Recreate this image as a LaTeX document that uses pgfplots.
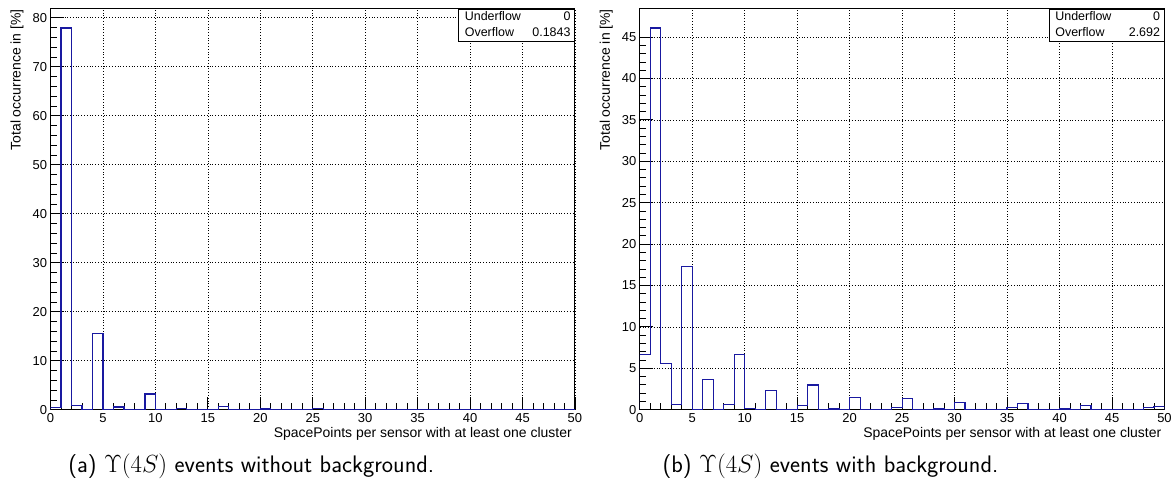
\documentclass[border=0pt]{standalone}
\usepackage{pgfplots}
\pgfplotsset{compat=1.18}
\usepackage{pgfplotstable}
\usepackage{fontspec}
\newfontfamily\rootfont{Liberation Sans}
\definecolor{histblue}{RGB}{25,25,160}

\pgfplotstableread{
x y
0 0
0 0.4
1 77.9
2 0.9
3 0
4 15.5
5 0
6 0.55
7 0
8 0
9 3.2
10 0
11 0
12 0.3
13 0
14 0
15 0
16 0.7
17 0
18 0
19 0
20 0.15
21 0
22 0
23 0
24 0
25 0.2
26 0
27 0
28 0
29 0
30 0.05
31 0
32 0
33 0
34 0
35 0
36 0.1
37 0
38 0
39 0
40 0
41 0
42 0.05
43 0
44 0
45 0
46 0
47 0
48 0
49 0.03
50 0
}\dataA

\pgfplotstableread{
x y
0 0
0 6.7
1 46.1
2 5.6
3 0.6
4 17.3
5 0
6 3.65
7 0
8 0.6
9 6.7
10 0.12
11 0
12 2.33
13 0
14 0
15 0.5
16 3.0
17 0
18 0.08
19 0
20 1.45
21 0.05
22 0
23 0
24 0.3
25 1.4
26 0
27 0
28 0.1
29 0
30 0.9
31 0.05
32 0
33 0
34 0
35 0.25
36 0.72
37 0
38 0
39 0
40 0.1
41 0
42 0.55
43 0
44 0
45 0.02
46 0
47 0
48 0.25
49 0.4
50 0
}\dataB

\pgfplotsset{
  layers/rootlayers/.define layer set={axis background,axis grid,pre main,main,axis ticks,axis lines,axis tick labels,axis descriptions,axis foreground}{},
  rootstyle/.style={
    set layers=rootlayers,
    anchor=south west,
    scale only axis,
    xmin=0, xmax=50, ymin=0,
    xtick={0,5,...,50}, minor x tick num=4,
    minor y tick num=4,
    xtick pos=left, ytick pos=left,
    tick align=inside,
    major tick length=13pt, minor tick length=6.5pt,
    every tick/.style={black, line width=0.9pt},
    axis line style={black, line width=1pt},
    grid=major,
    major grid style={black, line width=0.6pt, dash pattern=on 0.8pt off 2pt},
    /pgf/number format/assume math mode=true,
    tick label style={font=\rootfont\fontsize{13}{15}\selectfont},
    label style={font=\rootfont\fontsize{14}{16}\selectfont},
    xlabel={SpacePoints per sensor with at least one cluster},
    ylabel={Total occurrence in [\%]},
    xlabel style={at={(axis description cs:1,0)}, anchor=north east, inner sep=0pt, yshift=-17pt, xshift=-3pt},
    ylabel style={at={(axis description cs:-0.064,1)}, anchor=east, inner sep=0pt},
  },
}
\tikzset{
  statbox/.style={draw=black, line width=0.9pt, fill=white, anchor=north east, inner sep=0pt,
    font=\rootfont\fontsize{12.5}{16}\selectfont},
}

\begin{document}
\begin{tikzpicture}[x=1pt,y=1pt]
\path (0,0) rectangle (1175,495);

\begin{axis}[rootstyle, name=left,
  at={(50.7pt,84pt)}, width=526pt, height=402pt,
  ymax=81.8, ytick={0,10,...,80}]
\addplot[const plot, draw=histblue, line width=1.2pt] table[x=x,y=y] {\dataA};
\end{axis}
\node[statbox] at (left.north east) {%
  \begin{tabular*}{116pt}{@{\hspace{6pt}}l@{\extracolsep{\fill}}r@{\hspace{4pt}}}
  Underflow & 0\\
  Overflow & 0.1843
  \end{tabular*}};

\begin{axis}[rootstyle, name=right,
  at={(641.7pt,84pt)}, width=526.3pt, height=402pt,
  ymax=48.4, ytick={0,5,...,45}]
\addplot[const plot, draw=histblue, line width=1.2pt] table[x=x,y=y] {\dataB};
\end{axis}
\node[statbox] at (right.north east) {%
  \begin{tabular*}{115pt}{@{\hspace{6pt}}l@{\extracolsep{\fill}}r@{\hspace{4pt}}}
  Underflow & 0\\
  Overflow & 2.692
  \end{tabular*}};

\node[anchor=base, font=\sffamily\fontsize{24}{28}\selectfont] at (252,21.5) {(a) $\Upsilon(4S)$ events without background.};
\node[anchor=base, font=\sffamily\fontsize{24}{28}\selectfont] at (833,21.5) {(b) $\Upsilon(4S)$ events with background.};
\end{tikzpicture}
\end{document}
